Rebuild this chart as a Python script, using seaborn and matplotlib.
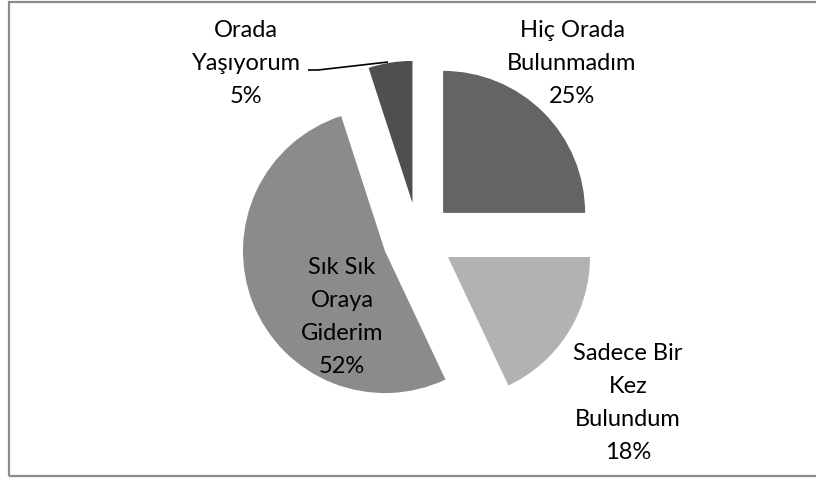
import matplotlib
matplotlib.use("Agg")
import matplotlib.pyplot as plt
import seaborn as sns
from matplotlib.patches import Rectangle

sns.set_theme(style="white")
plt.rcParams["font.family"] = ["Lato", "DejaVu Sans"]

# Survey answers and their shares (%)
categories = ["Hiç Orada Bulunmadım", "Sadece Bir Kez Bulundum", "Sık Sık Oraya Giderim", "Orada Yaşıyorum"]
shares = [25, 18, 52, 5]
label_lines = [["Hiç Orada", "Bulunmadım"], ["Sadece Bir", "Kez", "Bulundum"], ["Sık Sık", "Oraya", "Giderim"], ["Orada", "Yaşıyorum"]]

slice_colors = ["#646464", "#b2b2b2", "#8b8b8b", "#4f4f4f"]

W, H = 816, 479
fig = plt.figure(figsize=(W / 100, H / 100), dpi=100)
ax = fig.add_axes([0, 0, 1, 1])

# pie in pixel units, y measured upward; every slice pulled out by the same distance
cx, cy, r = 418, H - 238, 142
ax.pie(shares, startangle=90, counterclock=False, radius=r, center=(cx, cy),
       explode=[35.5] * len(shares), colors=slice_colors,
       wedgeprops=dict(linewidth=0), frame=True)
ax.set_xlim(0, W)
ax.set_ylim(0, H)
ax.set_aspect("equal")
ax.axis("off")

# label anchor (centre x, first line centre y) in image pixels
label_pos = [(572, 30), (628, 353), (342, 267), (246, 30)]
line_gap = 33.3
for lines, val, (lx, ly) in zip(label_lines, shares, label_pos):
    all_lines = lines + [f"{val}%"]
    for i, t in enumerate(all_lines):
        ax.text(lx, H - (ly + i * line_gap), t, ha="center", va="center",
                fontsize=17, color="#000000")

# leader line for the small slice
ax.plot([308, 318, 388], [H - 70, H - 70, H - 62], color="#000000", lw=1.2,
        solid_capstyle="butt")

# chart-area frame
fig.patches.append(Rectangle((8.5 / W, 3.5 / H), 1.2, (H - 5) / H, transform=fig.transFigure,
                             fill=False, edgecolor="#8c8c8c", linewidth=1.6))

fig.savefig("out.png", dpi=100)
